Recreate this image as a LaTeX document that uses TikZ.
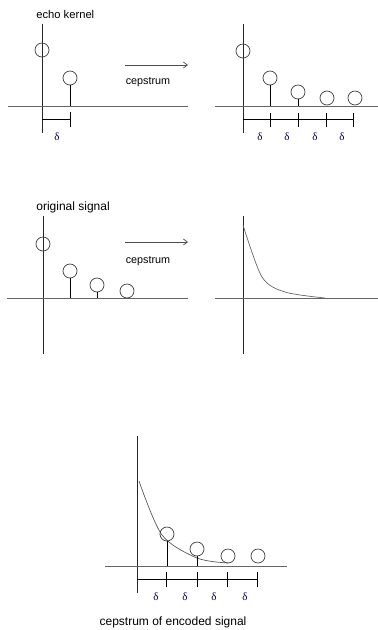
\documentclass[tikz,border=0pt]{standalone}
\usepackage{fontspec}
\setmainfont{Liberation Sans}
\newfontfamily\dfont{Liberation Serif}
\usetikzlibrary{arrows.meta}

\begin{document}
\begin{tikzpicture}[x=1pt,y=-1pt,>={Straight Barb[length=4pt,width=6pt]},line width=0.7pt,
  every node/.style={font=\fontsize{10.8}{12}\selectfont},
  sample/.style={draw=black!75,circle,minimum size=14pt,inner sep=0pt},
  axis/.style={draw=black!85},
  base/.style={draw=black!60},
  delta/.style={font=\dfont\fontsize{11}{12}\selectfont,text=black!70!blue}]
\useasboundingbox (0,0) rectangle (378,630);
% echo kernel
\node[anchor=west,inner sep=0pt,font=\fontsize{11.2}{12}\selectfont] (kt) at (36,14) {echo kernel};
\draw[axis] (42,24) -- (42,133);
\draw[base] (8,106) -- (188,106);
\node[sample] (k0) at (42,50) {};
\node[sample] (k1) at (70,78) {};
\draw (k1.south) -- (70,106);
\draw (42,119) -- (70,119) (70,112) -- (70,127);
\node[delta] (kd) at (57,137) {δ};
\coordinate (ka) at (125,65);
\coordinate (kb) at (188,65);
\draw[->,black!70] (ka) -- (kb);
\node (kc) at (148,82) {cepstrum};
% cepstrum of echo kernel
\draw[axis] (243,24) -- (243,133);
\draw[base] (215,106) -- (378,106);
\node[sample] (q0) at (243,51) {};
\node[sample] (q1) at (270,78) {};
\node[sample] (q2) at (298,92) {};
\node[sample] (q3) at (327,98) {};
\node[sample] (q4) at (355,98) {};
\draw (q1.south) -- (270,106);
\draw (q2.south) -- (298,106);
\draw (243,119) -- (353,119);
\foreach \x in {270,298,326,353} \draw (\x,113) -- (\x,127);
\node[delta] (qd1) at (260,137) {δ};
\node[delta] (qd2) at (287,137) {δ};
\node[delta] (qd3) at (315,137) {δ};
\node[delta] (qd4) at (342,137) {δ};
% original signal
\node[anchor=west,inner sep=0pt,font=\fontsize{12}{12}\selectfont] (st) at (36,207) {original signal};
\draw[axis] (43,216) -- (43,354);
\draw[base] (7,298) -- (188,298);
\node[sample] (s0) at (43,244) {};
\node[sample] (s1) at (70,271) {};
\node[sample] (s2) at (97,285) {};
\node[sample] (s3) at (127,291) {};
\draw (s1.south) -- (70,298);
\draw (s2.south) -- (97,298);
\coordinate (sa) at (125,242);
\coordinate (sb) at (188,242);
\draw[->,black!70] (sa) -- (sb);
\node (sc) at (148,261) {cepstrum};
% cepstrum of original signal
\draw[axis] (243,216) -- (243,354);
\draw[base] (215,298) -- (378,298);
\draw[black!60] plot[smooth,tension=0.5] coordinates {(243,225) (262,277) (285,292) (325,298)};
% cepstrum of encoded signal
\draw[axis] (137,436) -- (137,593);
\draw[base] (105,566) -- (287,566);
\draw[black!65] plot[smooth,tension=0.5] coordinates {(139,481) (162,535) (197,558) (228,563)};
\node[sample] (e1) at (167,534) {};
\node[sample] (e2) at (197,549) {};
\node[sample] (e3) at (228,556) {};
\node[sample] (e4) at (258,556) {};
\draw (e1.south) -- (167,566);
\draw (e2.south) -- (197,566);
\draw (137,579) -- (257,579);
\foreach \x in {166,197,227,257} \draw (\x,572) -- (\x,587);
\node[delta] (ed1) at (156,597) {δ};
\node[delta] (ed2) at (185,597) {δ};
\node[delta] (ed3) at (214,597) {δ};
\node[delta] (ed4) at (245,597) {δ};
\node[font=\fontsize{12}{12}\selectfont] (et) at (173,622) {cepstrum of encoded signal};
\end{tikzpicture}
\end{document}
